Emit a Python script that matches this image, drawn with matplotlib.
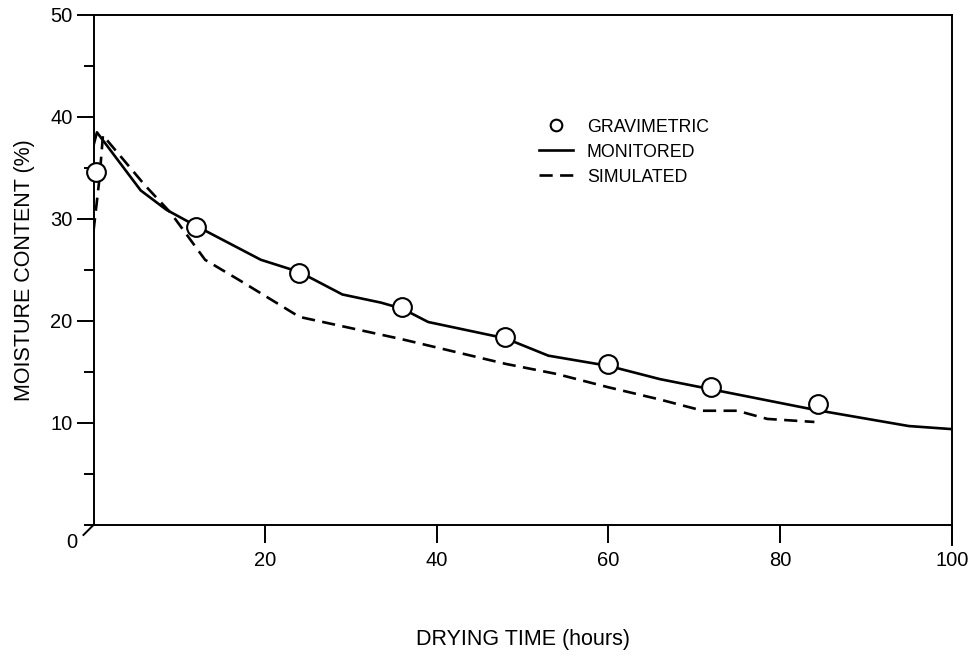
import matplotlib
matplotlib.use("Agg")
import matplotlib.pyplot as plt
from matplotlib.ticker import MultipleLocator

plt.rcParams['font.family'] = ['Liberation Sans', 'DejaVu Sans']

# Gravimetric samples
grav_x = [0.3, 12, 24, 36, 48, 60, 72, 84.4]
grav_y = [34.6, 29.2, 24.7, 21.4, 18.4, 15.8, 13.5, 11.9]

# Monitored moisture content
mon_x = [0, 0.4, 5.5, 8.5, 12, 19.5, 24, 29, 33.5, 36, 39, 48, 53, 60, 66, 72, 84, 95, 100]
mon_y = [37.2, 38.5, 32.8, 30.9, 29.3, 26.0, 24.8, 22.6, 21.8, 21.2, 19.9, 18.3, 16.6, 15.6, 14.3, 13.3, 11.3, 9.7, 9.4]

# Simulated moisture content
sim_x = [0, 0.7, 1.1, 6, 9, 13, 17, 24, 30, 36, 48, 54, 60, 66, 71, 75, 78.5, 84]
sim_y = [28.8, 34.0, 38.2, 33.3, 30.6, 26.0, 24.0, 20.4, 19.3, 18.2, 15.8, 14.8, 13.5, 12.3, 11.2, 11.2, 10.4, 10.1]

xticks = [20, 40, 60, 80, 100]
yticks = [10, 20, 30, 40, 50]

fig = plt.figure(figsize=(9.76, 6.55), dpi=100)
ax = fig.add_axes([0.0958, 0.1985, 0.8793, 0.7786])

ax.plot(mon_x, mon_y, color='black', lw=1.9, solid_joinstyle='round', label='MONITORED', zorder=2)
ax.plot(sim_x, sim_y, color='black', lw=1.9, ls=(0, (5, 2.8)), label='SIMULATED', zorder=2)
ax.plot(grav_x, grav_y, ls='none', marker='o', ms=13.5, mfc='white', mec='black', mew=1.5,
        label='GRAVIMETRIC', zorder=3, clip_on=False)

ax.set_xlim(0, 100)
ax.set_ylim(0, 50)
ax.set_xticks(xticks)
ax.set_yticks(yticks)
ax.yaxis.set_minor_locator(MultipleLocator(5))
ax.tick_params(axis='y', which='major', direction='out', length=12, width=1.4, labelsize=14.5, pad=3)
ax.tick_params(axis='y', which='minor', direction='out', length=7, width=1.4)
ax.tick_params(axis='x', which='major', direction='out', length=13, width=1.4, labelsize=14.5, pad=6)
for s in ax.spines.values():
    s.set_linewidth(1.4)

# origin marker and label
ax.plot([0, -0.0117], [0, -0.0196], transform=ax.transAxes, color='black', lw=1.4, clip_on=False)
ax.text(-0.0254, -0.0353, '0', transform=ax.transAxes, ha='center', va='center', fontsize=14.5)
# right spine extends below axis as tick at 100
ax.plot([1, 1], [0, -0.04], transform=ax.transAxes, color='black', lw=1.4, clip_on=False)

ax.set_xlabel('DRYING TIME (hours)', fontsize=15.5)
ax.set_ylabel('MOISTURE CONTENT (%)', fontsize=15.5)
ax.xaxis.set_label_coords(0.5, -0.204)
ax.yaxis.set_label_coords(-0.068, 0.5)

h, l = ax.get_legend_handles_labels()
order = [2, 0, 1]
ax.legend([h[i] for i in order], [l[i] for i in order], loc='upper left',
          bbox_to_anchor=(0.519, 0.797), frameon=False, fontsize=12.8,
          handlelength=1.9, handletextpad=0.8, labelspacing=0.45, borderpad=0, borderaxespad=0,
          markerscale=0.62)

fig.savefig('out.png', dpi=100)
